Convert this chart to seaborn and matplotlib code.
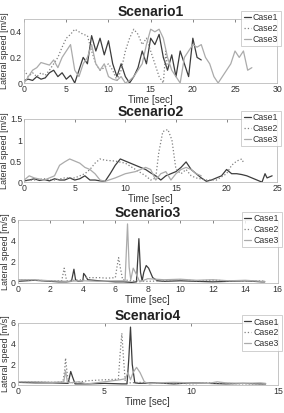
import matplotlib
matplotlib.use("Agg")
import matplotlib.pyplot as plt
import seaborn as sns
import pandas as pd
from matplotlib.ticker import FuncFormatter

sns.set_theme(style="white")
plt.rcParams['font.family'] = ['Liberation Sans', 'DejaVu Sans']

# ---------------- data ----------------
cases = ["Case1", "Case2", "Case3"]
scenarios = ["Scenario1", "Scenario2", "Scenario3", "Scenario4"]

# Scenario 1
s1_c1_t = [0, 0.5, 1, 1.5, 2, 2.5, 3, 3.5, 4, 4.5, 5, 5.5, 6, 6.5, 7, 7.5, 8, 8.5, 9, 9.5, 10, 10.5, 11, 11.5, 12, 12.5, 13, 13.5, 14, 14.5, 15, 15.5, 16, 16.5, 17, 17.5, 18, 18.5, 19, 19.5, 20, 20.5, 21]
s1_c1_v = [0.02, 0.03, 0.02, 0.05, 0.03, 0.04, 0.08, 0.1, 0.05, 0.08, 0.03, 0.06, 0.0, 0.1, 0.2, 0.15, 0.37, 0.25, 0.35, 0.22, 0.33, 0.15, 0.05, 0.15, 0.05, 0.0, 0.05, 0.12, 0.25, 0.15, 0.35, 0.3, 0.38, 0.2, 0.1, 0.22, 0.05, 0.25, 0.15, 0.05, 0.35, 0.2, 0.18]
s1_c2_t = [0, 0.5, 1, 1.5, 2, 2.5, 3, 3.5, 4, 4.5, 5, 5.5, 6, 6.5, 7, 7.5, 8, 8.5, 9, 9.5, 10, 10.5, 11, 11.5, 12, 12.5, 13, 13.5, 14, 14.5, 15, 15.5, 16, 16.5, 16.8, 17]
s1_c2_v = [0.1, 0.05, 0.08, 0.05, 0.08, 0.06, 0.1, 0.15, 0.2, 0.28, 0.35, 0.38, 0.42, 0.4, 0.38, 0.37, 0.25, 0.15, 0.1, 0.12, 0.15, 0.1, 0.02, 0.1, 0.25, 0.35, 0.42, 0.38, 0.3, 0.35, 0.25, 0.15, 0.05, 0.0, 0.25, 0.1]
s1_c3_t = [0, 0.5, 1, 1.5, 2, 2.5, 3, 3.5, 4, 4.5, 5, 5.5, 6, 6.5, 7, 7.5, 8, 8.5, 9, 9.5, 10, 10.5, 11, 11.5, 12, 12.5, 13, 13.5, 14, 14.5, 15, 15.5, 16, 16.5, 17, 17.5, 18, 18.5, 19, 19.5, 20, 20.5, 21, 21.5, 22, 22.5, 23, 23.5, 24, 24.5, 25, 25.5, 26, 26.5, 27]
s1_c3_v = [0.0, 0.05, 0.1, 0.12, 0.16, 0.15, 0.14, 0.18, 0.12, 0.2, 0.25, 0.3, 0.1, 0.05, 0.15, 0.2, 0.3, 0.15, 0.1, 0.15, 0.05, 0.03, 0.02, 0.05, 0.0, 0.02, 0.05, 0.1, 0.15, 0.3, 0.42, 0.4, 0.42, 0.35, 0.2, 0.1, 0.05, 0.0, 0.2, 0.25, 0.3, 0.28, 0.3, 0.2, 0.15, 0.05, 0.0, 0.05, 0.1, 0.15, 0.25, 0.2, 0.25, 0.1, 0.12]

# Scenario 2
s2_c1_t = [0, 0.5, 1, 1.5, 2, 2.5, 3, 3.5, 4, 4.5, 5, 5.5, 6, 6.5, 7, 7.5, 8, 8.5, 9, 9.5, 10, 10.5, 11, 11.5, 12, 12.5, 13, 13.5, 14, 14.5, 15, 15.5, 16, 16.5, 17, 17.5, 18, 18.5, 19, 19.5, 20, 20.5, 21, 21.5, 22, 22.5, 23, 23.5, 23.8, 24, 24.5]
s2_c1_v = [0.03, 0.05, 0.08, 0.04, 0.06, 0.03, 0.08, 0.05, 0.05, 0.1, 0.05, 0.08, 0.15, 0.05, 0.05, 0.03, 0.02, 0.2, 0.4, 0.55, 0.5, 0.45, 0.4, 0.35, 0.3, 0.22, 0.15, 0.05, 0.15, 0.2, 0.25, 0.35, 0.48, 0.3, 0.2, 0.1, 0.02, 0.05, 0.1, 0.15, 0.3, 0.2, 0.2, 0.18, 0.15, 0.1, 0.05, 0.0, 0.2, 0.1, 0.15]
s2_c2_t = [0, 1, 2, 3, 4, 5, 6, 6.5, 7, 7.5, 8, 9, 10, 11, 12, 12.5, 13, 13.3, 13.7, 14.2, 14.6, 15, 15.5, 16, 16.5, 17, 18, 19, 20, 20.5, 21, 21.5, 21.7]
s2_c2_v = [0.05, 0.05, 0.08, 0.05, 0.1, 0.1, 0.2, 0.3, 0.45, 0.55, 0.52, 0.5, 0.45, 0.3, 0.15, 0.05, 0.1, 0.7, 1.2, 1.25, 1.0, 0.3, 0.2, 0.3, 0.15, 0.1, 0.05, 0.05, 0.2, 0.4, 0.5, 0.55, 0.45]
s2_c3_t = [0, 0.5, 1, 2, 3, 3.5, 4, 4.5, 5, 5.5, 6, 6.5, 7, 7.5, 8, 9, 10, 11, 12, 12.5, 13, 13.5, 14, 14.5, 15, 15.5, 16, 16.5, 17, 17.5]
s2_c3_v = [0.05, 0.15, 0.1, 0.05, 0.15, 0.4, 0.48, 0.55, 0.5, 0.45, 0.35, 0.3, 0.2, 0.05, 0.02, 0.1, 0.2, 0.25, 0.35, 0.3, 0.05, 0.2, 0.25, 0.05, 0.2, 0.3, 0.35, 0.3, 0.2, 0.15]

# Scenario 3
s3_c1_t = [0, 0.5, 1, 1.5, 2, 2.5, 3, 3.3, 3.45, 3.55, 3.7, 4, 4.05, 4.15, 4.3, 5, 5.5, 6, 6.5, 7, 7.3, 7.45, 7.55, 7.65, 7.75, 7.9, 8.05, 8.3, 8.6, 9, 10, 11, 12, 13, 14, 15, 15.2]
s3_c1_v = [0.15, 0.2, 0.25, 0.2, 0.15, 0.1, 0.1, 0.15, 1.3, 0.3, 0.15, 0.2, 0.9, 0.7, 0.3, 0.2, 0.15, 0.1, 0.1, 0.05, 0.1, 4.2, 1.0, 0.2, 1.0, 1.65, 1.4, 0.5, 0.2, 0.15, 0.2, 0.15, 0.1, 0.15, 0.2, 0.1, 0.1]
s3_c2_t = [0, 1, 2, 2.7, 2.85, 3.0, 3.5, 4, 4.2, 5, 5.5, 6, 6.1, 6.2, 6.3, 6.45, 7, 8, 9, 10, 11, 12, 13, 14, 15, 15.2]
s3_c2_v = [0.3, 0.25, 0.2, 0.2, 1.4, 0.2, 0.25, 0.3, 0.5, 0.5, 0.45, 0.5, 1.5, 2.4, 1.5, 0.3, 0.2, 0.15, 0.2, 0.3, 0.2, 0.25, 0.2, 0.15, 0.2, 0.15]
s3_c3_t = [0, 1, 2, 3, 4, 5, 6, 6.6, 6.75, 6.85, 6.95, 7.1, 7.3, 7.5, 8, 9, 10, 11, 12, 13, 14, 15, 15.2]
s3_c3_v = [0.3, 0.3, 0.2, 0.15, 0.2, 0.15, 0.2, 0.2, 5.6, 1.5, 0.3, 1.4, 0.8, 0.1, 0.4, 0.3, 0.35, 0.25, 0.3, 0.2, 0.25, 0.15, 0.15]

# Scenario 4
s4_c1_t = [0, 1, 2, 2.9, 3.05, 3.15, 3.3, 4, 5, 6, 6.3, 6.4, 6.5, 6.6, 6.75, 7, 8, 9, 10, 11, 12, 13, 14, 14.3]
s4_c1_v = [0.25, 0.2, 0.2, 0.15, 1.3, 0.8, 0.1, 0.1, 0.15, 0.1, 0.1, 2.5, 5.6, 2.0, 0.2, 0.15, 0.2, 0.1, 0.2, 0.15, 0.1, 0.15, 0.1, 0.1]
s4_c2_t = [0, 1, 2, 2.6, 2.7, 2.75, 2.85, 2.95, 3.2, 4, 5, 5.8, 5.9, 6.0, 6.1, 6.2, 6.5, 7, 8, 9, 10, 11, 12, 13, 14, 14.3]
s4_c2_v = [0.3, 0.3, 0.25, 0.3, 1.4, 2.6, 1.0, 0.3, 0.2, 0.4, 0.5, 0.55, 3.0, 5.0, 2.5, 0.3, 0.2, 0.25, 0.15, 0.2, 0.1, 0.2, 0.15, 0.1, 0.1, 0.1]
s4_c3_t = [0, 1, 2, 2.65, 2.75, 2.85, 3.0, 3.5, 4, 5, 5.9, 6.2, 6.35, 6.5, 6.65, 6.85, 7.05, 7.3, 7.6, 8, 9, 10, 11, 11.5, 12, 13, 14, 14.3]
s4_c3_v = [0.3, 0.3, 0.25, 0.3, 1.4, 0.3, 0.2, 0.3, 0.1, 0.3, 0.5, 0.6, 1.2, 0.5, 1.2, 1.7, 1.2, 0.3, 0.1, 0.2, 0.25, 0.2, 0.15, 0.3, 0.2, 0.15, 0.2, 0.15]

series = [
    [(s1_c1_t, s1_c1_v), (s1_c2_t, s1_c2_v), (s1_c3_t, s1_c3_v)],
    [(s2_c1_t, s2_c1_v), (s2_c2_t, s2_c2_v), (s2_c3_t, s2_c3_v)],
    [(s3_c1_t, s3_c1_v), (s3_c2_t, s3_c2_v), (s3_c3_t, s3_c3_v)],
    [(s4_c1_t, s4_c1_v), (s4_c2_t, s4_c2_v), (s4_c3_t, s4_c3_v)],
]

xlims = [(0, 30), (0, 25), (0, 16), (0, 15)]
ylims = [(0, 0.5), (0, 1.5), (0, 6), (0, 6)]
xticks = [[0, 5, 10, 15, 20, 25, 30], [0, 5, 10, 15, 20, 25],
          [0, 2, 4, 6, 8, 10, 12, 14, 16], [0, 5, 10, 15]]
yticks = [[0, 0.2, 0.4], [0, 0.5, 1, 1.5], [0, 2, 4, 6], [0, 2, 4, 6]]

# ---------------- style ----------------
colors = ["#3c3c3c", "#808080", "#ababab"]
styles = ["-", ":", "-"]
widths = [0.9, 0.9, 0.9]

positions = [
    [0.085, 0.799, 0.891, 0.155],
    [0.085, 0.559, 0.891, 0.153],
    [0.063, 0.315, 0.915, 0.153],
    [0.063, 0.068, 0.915, 0.150],
]

fig = plt.figure(figsize=(2.84, 4.13), dpi=100)

for i in range(4):
    ax = fig.add_axes(positions[i])
    for j in range(3):
        t, v = series[i][j]
        df = pd.DataFrame({"t": t, "v": v})
        sns.lineplot(data=df, x="t", y="v", ax=ax, color=colors[j],
                     linestyle=styles[j], linewidth=widths[j], label=cases[j],
                     estimator=None, sort=False)
    ax.set_xlim(*xlims[i])
    ax.set_ylim(*ylims[i])
    ax.set_xticks(xticks[i])
    ax.set_yticks(yticks[i])
    ax.yaxis.set_major_formatter(FuncFormatter(lambda val, pos: "%g" % val))
    ax.tick_params(axis="both", labelsize=6.3, direction="in", length=2,
                   width=0.5, colors="#555555", pad=1.5, top=True, right=False)
    for lab in ax.get_xticklabels() + ax.get_yticklabels():
        lab.set_color("#333333")
    for sp in ax.spines.values():
        sp.set_color("#bbbbbb")
        sp.set_linewidth(0.6)
    ax.set_xlabel("Time [sec]", fontsize=7, labelpad=0.5, color="#333333")
    ax.set_ylabel("Lateral speed [m/s]", fontsize=6.5, labelpad=0.5, color="#333333")
    ax.set_title(scenarios[i], fontsize=10, fontweight="bold", pad=2, color="#222222")
    leg = ax.legend(loc="upper right", bbox_to_anchor=(1.015, 1.13), fontsize=6.3,
                    frameon=True, fancybox=False, handlelength=0.8,
                    handletextpad=0.25, borderpad=0.3, labelspacing=0.2,
                    borderaxespad=0)
    leg.get_frame().set_edgecolor("#bbbbbb")
    leg.get_frame().set_linewidth(0.6)
    for txt in leg.get_texts():
        txt.set_color("#333333")

fig.savefig("out.png", dpi=100)
